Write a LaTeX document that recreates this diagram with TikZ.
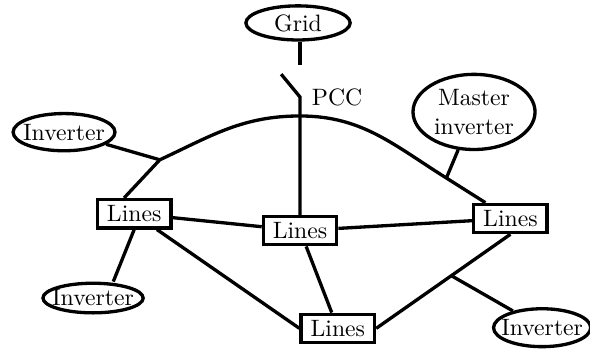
\documentclass[tikz,border=0pt]{standalone}
\usepackage{tikz}
\usetikzlibrary{shapes,shapes.geometric,positioning}

\begin{document}
\begin{tikzpicture}[line width=1.4pt,
    src/.style={ellipse,draw,inner xsep=-3pt,inner ysep=0pt},
    lines/.style={rectangle,draw,inner xsep=4pt,inner ysep=2.5pt}]
    \useasboundingbox (0,0) rectangle (8.75,-5.176);

    % Sources
    \node[src,minimum width=44pt,minimum height=14.4pt] (grid) at (4.42,-0.34) {Grid};
    \node[src,minimum width=51.5pt,minimum height=31.7pt,align=center] (master) at (7.03,-1.66) {Master\\inverter};
    \node[src,minimum width=43pt,minimum height=15.7pt] (invA) at (0.95,-1.96) {Inverter};
    \node[src,minimum width=42.3pt,minimum height=12.5pt] (invB) at (1.38,-4.42) {Inverter};
    \node[src,minimum width=41pt,minimum height=16pt] (invC) at (8.04,-4.86) {Inverter};

    % Line segments
    \node[lines] (ll) at (1.99,-3.17) {Lines};
    \node[lines] (lc) at (4.45,-3.42) {Lines};
    \node[lines] (lr) at (7.57,-3.24) {Lines};
    \node[lines] (lb) at (5.01,-4.87) {Lines};

    % Point of common coupling
    \coordinate (pcctop) at (4.45,-0.96);
    \coordinate (swa) at (4.17,-1.10);
    \coordinate (swb) at (4.45,-1.44);
    \node[right=1pt of swb] (pcc) {PCC};

    % Junctions
    \coordinate (j1) at (2.37,-2.37);
    \coordinate (crest) at (4.45,-1.72);
    \coordinate (j2) at (6.62,-2.64);

    % Connections
    \draw (grid.south -| pcctop) -- (pcctop);
    \draw (swa) -- (swb) -- (lc);
    \draw ([xshift=-1.5mm]ll.north) -- (j1) to[out=25,in=180] (crest)
        to[out=0,in=148] (j2) -- (lr);
    \draw (invA) -- (j1);
    \draw (master) -- (j2);
    \draw (ll) -- (lc) -- (lr);
    \draw (lc) -- (lb);
    \draw (ll) -- (lb.west);
    \draw (lb.east) -- coordinate[pos=0.56] (j3) (lr.south);
    \draw (j3) -- (invC);
    \draw (ll.south) -- ([xshift=3mm]invB.north);
\end{tikzpicture}
\end{document}
